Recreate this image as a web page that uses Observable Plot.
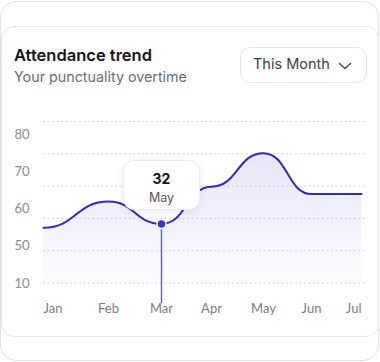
<!DOCTYPE html>
<html>
<head>
<meta charset="utf-8">
<script src="https://cdn.jsdelivr.net/npm/d3@7"></script>
<script src="https://cdn.jsdelivr.net/npm/@observablehq/plot@0.6"></script>
<style>
  html, body { margin: 0; padding: 0; background: #fff; }
  body { width: 380px; height: 362px; position: relative; overflow: hidden; font-family: Inter, "Noto Sans", sans-serif; }
  .outer { position: absolute; left: 0; top: 1px; width: 379px; height: 360px; box-sizing: border-box; border: 1px solid #e2e2e6; border-radius: 16px; background: #fff; }
  .inner { position: absolute; left: 1px; top: 26px; width: 378px; height: 311px; box-sizing: border-box; border: 1px solid #e6e6ea; border-radius: 13px; background: #fff; }
  .title { position: absolute; left: 14px; top: 45px; font-size: 16.5px; line-height: 20px; font-weight: 600; color: #16161d; white-space: nowrap; }
  .subtitle { position: absolute; left: 14px; top: 68px; font-size: 14.3px; line-height: 18px; color: #6b6c7a; white-space: nowrap; }
  .dropdown { position: absolute; left: 240px; top: 47px; width: 127px; height: 36px; box-sizing: border-box; border: 1px solid #e4e4e8; border-radius: 10px; background: #fff; }
  .dropdown span { position: absolute; left: 12px; top: 7px; font-size: 14.5px; line-height: 18px; color: #3e404e; white-space: nowrap; }
  .dropdown svg { position: absolute; left: 97px; top: 14px; }
  .chart { position: absolute; left: 0; top: 110px; width: 380px; height: 210px; }
  .chart svg { position: absolute; left: 0; top: 0; }
  .tip { position: absolute; left: 123px; top: 160px; width: 77px; height: 50px; box-sizing: border-box; border: 1px solid #ececf0; border-radius: 11px; background: #fff; box-shadow: 0 2px 8px rgba(30,30,60,0.08); }
  .tip .v { position: absolute; left: 0; right: 0; top: 10px; text-align: center; font-size: 14px; line-height: 16px; font-weight: 700; color: #15151c; }
  .tip .l { position: absolute; left: 0; right: 0; top: 29px; text-align: center; font-size: 12.5px; line-height: 15px; color: #555664; }
  g[aria-label="x-axis tick label"] { fill: #7b7c88; }
  g[aria-label="y-axis tick label"] { fill: #8b8b93; }
</style>
</head>
<body>
<div class="outer"></div>
<div class="inner"></div>
<div class="title">Attendance trend</div>
<div class="subtitle">Your punctuality overtime</div>
<div class="dropdown"><span>This Month</span>
  <svg width="14" height="9" viewBox="0 0 14 9"><polyline points="1.5,1.5 7,6.5 12.5,1.5" fill="none" stroke="#4a4c5a" stroke-width="1.5" stroke-linecap="round" stroke-linejoin="round"/></svg>
</div>
<div class="chart" id="chart"></div>
<div class="tip"><div class="v" id="tipValue"></div><div class="l" id="tipLabel"></div></div>
<script>
// ---- data ----
const months = ["Jan", "Feb", "Mar", "Apr", "May", "Jun", "Jul"];
const attendance = [55, 62, 56, 66, 75, 64, 64];
const yTicks = [10, 50, 60, 70, 80];
const gridLines = [0, 1, 2, 3, 4, 5];
const highlightMonth = "Mar";
const tooltipValue = "32";
const tooltipLabel = "May";

// ---- layout config ----
const W = 380, H = 210;
const xRange = [43, 108, 161, 211, 263, 311, 361];
const yBottom = 173, yTop = 24;
const yRange = yTicks.map((_, i) => yBottom - i * (yBottom - yTop) / (yTicks.length - 1));

const data = months.map((m, i) => ({i, month: m, value: attendance[i]}));
const hl = data.filter(d => d.month === highlightMonth);

const grid = Plot.plot({
  width: W, height: H,
  marginLeft: 43, marginRight: 15, marginTop: 11, marginBottom: 37.5,
  y: {domain: [0, gridLines.length - 1], axis: null},
  style: {background: "transparent"},
  marks: [
    Plot.ruleY(gridLines, {stroke: "#d3d3da", strokeWidth: 1, strokeDasharray: "2 2.5"})
  ]
});

const axisOpts = {tickSize: 0, fontSize: 13, label: null};
const main = Plot.plot({
  width: W, height: H,
  marginLeft: 43, marginRight: 19, marginTop: 0, marginBottom: H - yBottom,
  x: {type: "linear", domain: months.map((_, i) => i), range: xRange, label: null},
  y: {type: "linear", domain: yTicks, range: yRange, label: null},
  style: {background: "transparent", overflow: "visible", fontFamily: "Lato, 'Open Sans', sans-serif", fontSize: "13px"},
  marks: [
    Plot.areaY(data, {x: "i", y1: yTicks[0], y2: "value", curve: "bump-x", fill: "url(#areaGrad)"}),
    Plot.line(data, {x: "i", y: "value", curve: "bump-x", stroke: "#2b2bc6", strokeWidth: 2}),
    Plot.ruleX(hl, {x: "i", y1: "value", y2: yTicks[0], insetBottom: -20, stroke: "#6161e8", strokeWidth: 1.5}),
    Plot.dot(hl, {x: "i", y: "value", r: 4.5, fill: "#3434d0", stroke: "#fff", strokeWidth: 1.5}),
    Plot.axisY({...axisOpts, ticks: yTicks, tickPadding: 14, tickFormat: d => String(d)}),
    Plot.axisX({...axisOpts, ticks: [0], tickPadding: 20, textAnchor: "start", tickFormat: i => months[i]}),
    Plot.axisX({...axisOpts, ticks: months.slice(1, -1).map((_, k) => k + 1), tickPadding: 20, tickFormat: i => months[i]}),
    Plot.axisX({...axisOpts, ticks: [months.length - 1], tickPadding: 20, textAnchor: "end", tickFormat: i => months[i]})
  ]
});

const defs = d3.select(main).insert("defs", ":first-child");
const lg = defs.append("linearGradient").attr("id", "areaGrad").attr("x1", 0).attr("y1", 0).attr("x2", 0).attr("y2", 1);
lg.append("stop").attr("offset", "0%").attr("stop-color", "#5858da").attr("stop-opacity", 0.15);
lg.append("stop").attr("offset", "100%").attr("stop-color", "#5858da").attr("stop-opacity", 0.02);

const chart = document.getElementById("chart");
chart.appendChild(grid);
chart.appendChild(main);
document.getElementById("tipValue").textContent = tooltipValue;
document.getElementById("tipLabel").textContent = tooltipLabel;
</script>
</body>
</html>
